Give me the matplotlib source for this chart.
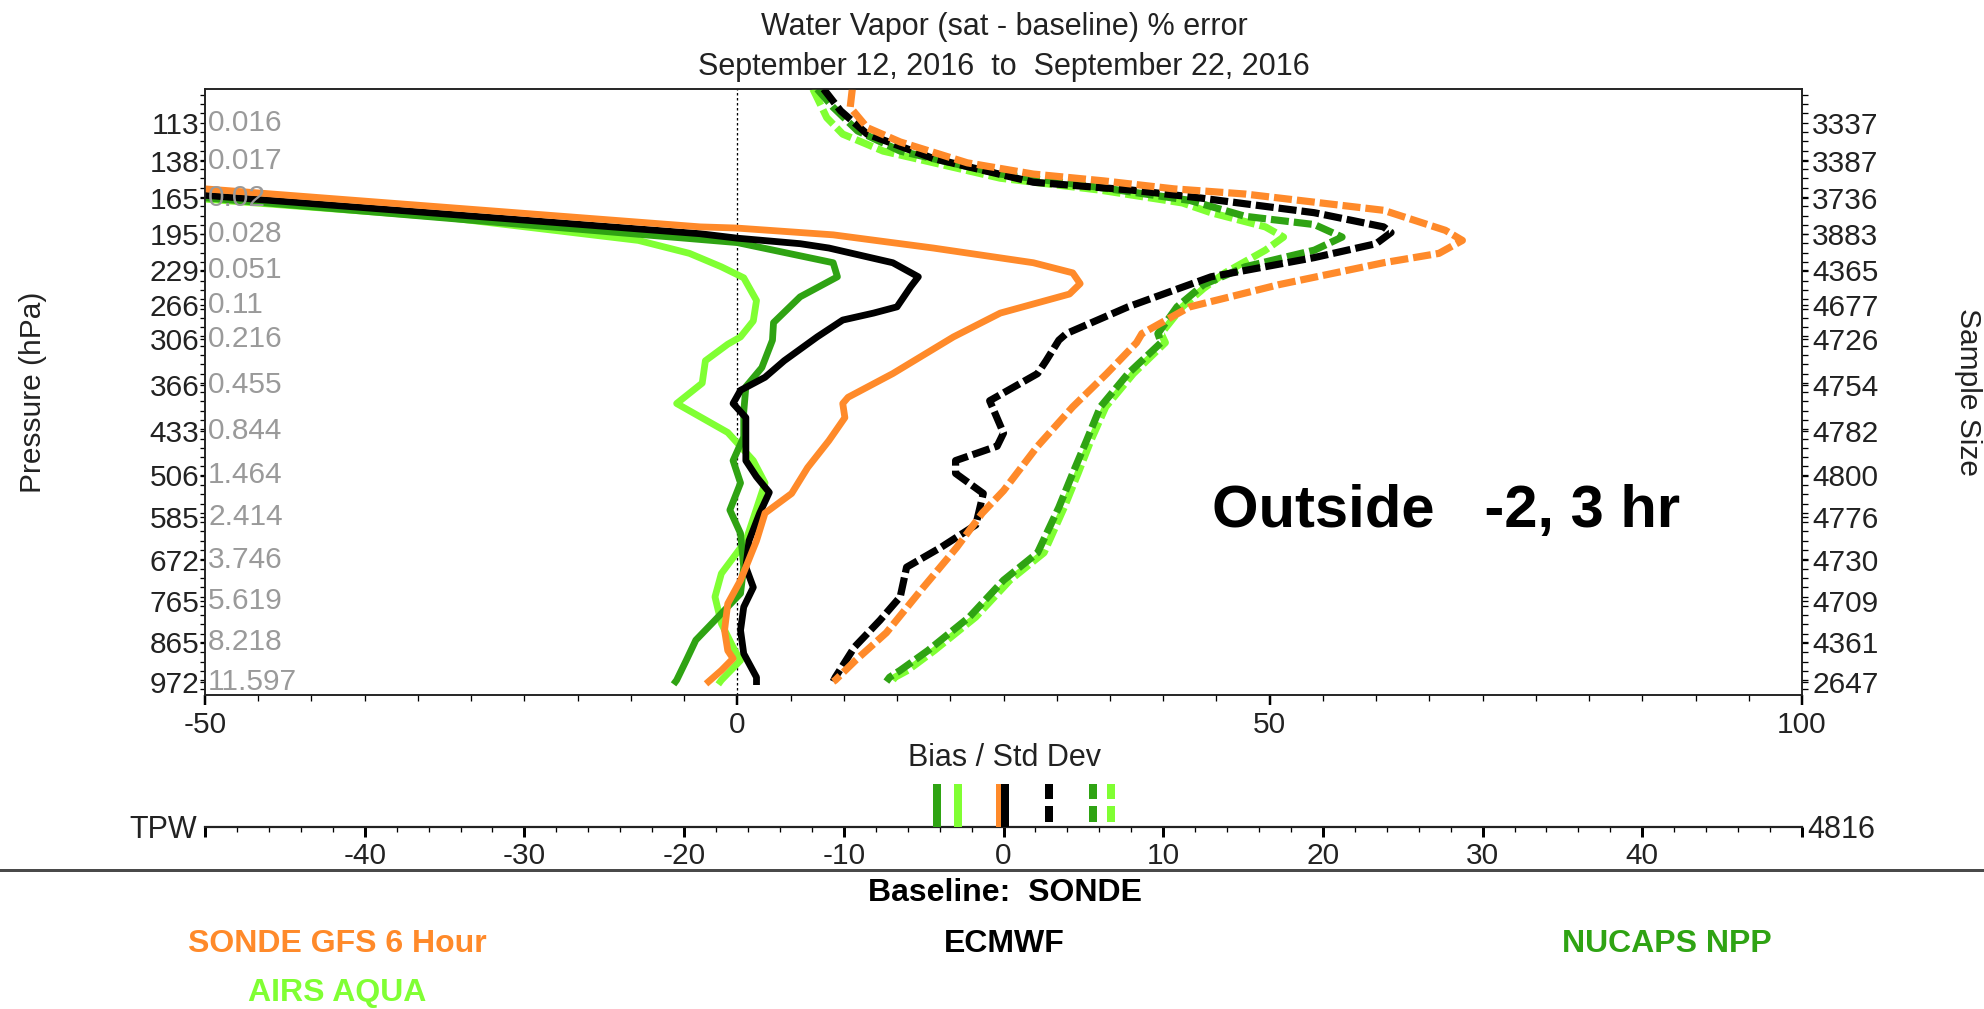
import numpy as np
import matplotlib.pyplot as plt
from matplotlib.lines import Line2D

plt.rcParams['font.family'] = ['Liberation Sans', 'DejaVu Sans']
plt.rcParams['lines.scale_dashes'] = False
plt.rcParams['axes.unicode_minus'] = False

# ---- data -------------------------------------------------------------
levels = [113, 138, 165, 195, 229, 266, 306, 366, 433, 506, 585, 672, 765, 865, 972]
mixing_ratio = ['0.016', '0.017', '0.02', '0.028', '0.051', '0.11', '0.216', '0.455',
                '0.844', '1.464', '2.414', '3.746', '5.619', '8.218', '11.597']
sample_size = [3337, 3387, 3736, 3883, 4365, 4677, 4726, 4754, 4782, 4800, 4776,
               4730, 4709, 4361, 2647]

# bias profiles (solid)
gfs_bias_x = [-50, -3.5, -0.1, 9.0, 18.4, 27.8, 31.5, 32.2, 31.2, 24.7, 20.3, 14.6, 10.4,
              9.9, 10.1, 8.6, 6.6, 5.1, 2.6, 1.8, 0.3, -0.9, -1.2, -0.9, -0.4, -1.5, -2.7]
gfs_bias_p = [158, 189, 190, 196, 208, 222, 232, 243, 254, 275, 303, 350, 383,
              392, 413, 449, 494, 540, 577, 632, 717, 771, 836, 888, 909, 941, 972]
ecmwf_bias_x = [-50, -3.5, 0, 5.9, 8.6, 14.6, 17.0, 16.3, 15.0, 12.8, 9.9, 7.5, 4.4, 2.6,
                0.3, -0.4, 0.8, 0.8, 0.8, 1.8, 3.0, 2.1, 1.1, 0.8, 1.5, 0.6, 0.3, 0.6, 1.8, 1.8]
ecmwf_bias_p = [163, 195, 199, 204, 208, 222, 236, 246, 268, 275, 283, 303, 333, 355,
                373, 392, 413, 443, 482, 510, 538, 577, 632, 688, 733, 779, 836, 896, 960, 972]
nucaps_bias_x = [-50, 0, 9.0, 9.4, 5.9, 3.4, 3.3, 2.3, 0.8, 0.6, 0.6, -0.4, 0.3, -0.7,
                 0.3, 0.6, 0.3, -2.1, -3.9, -4.8, -5.7, -5.8]
nucaps_bias_p = [165, 203, 222, 236, 257, 286, 307, 342, 368, 405, 443, 482, 521, 571,
                 617, 688, 747, 811, 861, 914, 968, 972]
airs_bias_x = [-50, -27.3, -9.3, -4.5, -1.5, 0.6, 1.8, 1.5, 0.3, -0.9, -3.0, -3.3, -5.7,
               -0.9, 1.5, 2.6, 0.8, -1.5, -2.1, -1.5, -0.4, 0.3, -1.5, -1.6]
airs_bias_p = [166, 181, 201, 213, 226, 237, 261, 284, 303, 312, 333, 363, 392,
               436, 482, 521, 632, 702, 755, 819, 879, 914, 968, 972]

# std dev profiles (dashed)
gfs_std_x = [10.8, 10.6, 12.2, 15.3, 21.6, 27.8, 34.4, 41.0, 47.7, 60.7, 66.5, 68.1, 65.9,
             60.7, 50.9, 42.5, 38.0, 37.5, 34.7, 31.5, 28.2, 25.0, 23.0, 20.6, 17.3, 14.0,
             11.1, 9.2, 9.0]
gfs_std_p = [94, 104, 116, 125, 139, 147, 152, 158, 162, 175, 192, 201, 213,
             222, 244, 268, 299, 310, 350, 397, 458, 535, 577, 646, 738, 842,
             914, 968, 972]
ecmwf_std_x = [8.1, 9.7, 12.2, 18.4, 27.8, 37.1, 43.4, 54.2, 60.7, 61.4, 60.0, 54.2, 44.5,
               36.7, 30.9, 30.2, 29.0, 28.2, 23.7, 25.0, 24.4, 20.5, 20.5, 23.1, 22.4,
               19.1, 15.9, 15.3, 13.4, 11.0, 9.2, 9.0]
ecmwf_std_p = [94, 106, 120, 136, 153, 159, 165, 177, 189, 194, 204, 217, 236,
               268, 299, 307, 333, 350, 388, 437, 458, 482, 504, 540, 600,
               646, 688, 755, 811, 879, 960, 972]
nucaps_std_x = [7.5, 9.0, 11.3, 15.3, 24.7, 34.1, 42.5, 47.7, 54.2, 56.8, 54.2, 47.7, 43.8,
                41.3, 39.5, 39.8, 36.7, 34.1, 32.8, 31.5, 30.2, 28.2, 25.0, 21.8, 17.9,
                15.3, 14.3, 14.0]
nucaps_std_p = [94, 104, 118, 131, 147, 157, 167, 180, 187, 198, 210, 226, 244,
                268, 299, 310, 350, 397, 449, 504, 566, 657, 717, 803, 888,
                941, 960, 972]
airs_std_x = [7.1, 8.4, 9.9, 13.7, 24.7, 34.1, 41.8, 44.5, 49.6, 51.3, 49.6, 45.8, 43.8,
              41.8, 39.8, 40.2, 37.2, 34.6, 33.2, 32.0, 30.7, 28.8, 25.6, 22.4, 18.5,
              16.0, 14.8, 14.5]
airs_std_p = [94, 110, 120, 131, 150, 159, 169, 177, 189, 198, 210, 232, 248,
              268, 299, 310, 350, 397, 449, 504, 566, 657, 717, 803, 888,
              941, 960, 972]

# TPW summary (bias solid, std dev dashed)
tpw_bias = {'gfs': -0.2, 'airs': -2.83, 'nucaps': -4.15, 'ecmwf': 0.1}
tpw_std = {'ecmwf': 2.87, 'nucaps': 5.62, 'airs': 6.75}
tpw_count = 4816

c_gfs = '#ff8a2a'
c_ecmwf = '#000000'
c_nucaps = '#2fa313'
c_airs = '#80ff33'

# ---- layout helpers (pixel positions in the 1984x1009 canvas) ---------
W, H = 1984, 1009
def fx(x):
    return x / W
def fy(y):
    return 1 - y / H
PT = 72 / 100  # points per pixel

fig = plt.figure(figsize=(W / 100, H / 100), dpi=100)
fig.patch.set_facecolor('white')

fwd = lambda p: np.sign(p) * np.abs(p) ** (2 / 7)
inv = lambda u: np.sign(u) * np.abs(u) ** 3.5

ax = fig.add_axes([fx(205), fy(695), (1802 - 205) / W, (695 - 89) / H])
ax.set_xlim(-50, 100)
ax.set_yscale('function', functions=(fwd, inv))
ax.set_ylim(1010, 94)

ax.axvline(0, color='k', lw=1.3 * PT, linestyle=(0, (2.5 * PT, 2.5 * PT)), zorder=1)

lw_s = 6.8 * PT
lw_d = 7.2 * PT
dash = (0, (18 * PT, 5 * PT))
for x, p, c in [(airs_std_x, airs_std_p, c_airs), (nucaps_std_x, nucaps_std_p, c_nucaps),
                (ecmwf_std_x, ecmwf_std_p, c_ecmwf), (gfs_std_x, gfs_std_p, c_gfs)]:
    ax.plot(x, p, color=c, lw=lw_d, linestyle=dash, zorder=3)
for x, p, c in [(airs_bias_x, airs_bias_p, c_airs), (nucaps_bias_x, nucaps_bias_p, c_nucaps),
                (ecmwf_bias_x, ecmwf_bias_p, c_ecmwf), (gfs_bias_x, gfs_bias_p, c_gfs)]:
    ax.plot(x, p, color=c, lw=lw_s, zorder=3)

for sp in ax.spines.values():
    sp.set_color('#222222')
    sp.set_linewidth(1.6 * PT)

ax.set_xticks([-50, 0, 50, 100])
ax.set_xticks(np.arange(-50, 101, 5), minor=True)
ax.tick_params(axis='x', which='major', direction='out', length=10 * PT, width=2.5 * PT,
               pad=6 * PT, labelsize=21.5, labelcolor='#222222')
ax.tick_params(axis='x', which='minor', direction='out', length=6 * PT, width=1.3 * PT)

u_minor = fwd(113) + 0.0545 * np.arange(-3, 62)
ax.set_yticks(levels)
ax.set_yticklabels([str(v) for v in levels])
ax.set_yticks(inv(u_minor), minor=True)
ax.yaxis.set_minor_formatter(plt.NullFormatter())
ax.tick_params(axis='y', which='major', direction='out', length=5 * PT, width=1.3 * PT,
               pad=0.5, labelsize=21.5, labelcolor='#222222')
ax.tick_params(axis='y', which='minor', direction='out', length=5 * PT, width=1.3 * PT)

axr = ax.twinx()
axr.set_yscale('function', functions=(fwd, inv))
axr.set_ylim(1010, 94)
axr.set_yticks(levels)
axr.set_yticklabels([str(v) for v in sample_size])
axr.set_yticks(inv(u_minor), minor=True)
axr.yaxis.set_minor_formatter(plt.NullFormatter())
axr.tick_params(axis='y', which='major', direction='out', length=6 * PT, width=1.3 * PT,
                pad=4 * PT, labelsize=21.5, labelcolor='#222222')
axr.tick_params(axis='y', which='minor', direction='out', length=6 * PT, width=1.3 * PT)
for sp in axr.spines.values():
    sp.set_color('#222222')
    sp.set_linewidth(1.6 * PT)

for p, s in zip(levels, mixing_ratio):
    ax.text(0.002, p, s, transform=ax.get_yaxis_transform(), ha='left', va='center',
            fontsize=21.5, color='#9a9a9a', zorder=6)

ax.text(0.777, 0.302, 'Outside   -2, 3 hr', transform=ax.transAxes, ha='center', va='center',
        fontsize=43, fontweight='bold', color='k', zorder=6)

# titles and axis names
fig.text(fx(1004), fy(27), 'Water Vapor (sat - baseline) % error', ha='center', va='center',
         fontsize=22, color='#222222')
fig.text(fx(1004), fy(67), 'September 12, 2016  to  September 22, 2016', ha='center',
         va='center', fontsize=22, color='#222222')
fig.text(fx(33), fy(392), 'Pressure (hPa)', rotation=90, ha='center', va='center',
         fontsize=21.5, color='#222222')
fig.text(fx(1968), fy(392), 'Sample Size', rotation=270, ha='center', va='center',
         fontsize=21.5, color='#222222')
fig.text(fx(1004), fy(758), 'Bias / Std Dev', ha='center', va='center', fontsize=22,
         color='#222222')

# ---- TPW strip ---------------------------------------------------------
ax2 = fig.add_axes([fx(205), fy(827), 1597 / W, 52 / H])
ax2.set_xlim(-50, 50)
ax2.set_ylim(0, 1)
ax2.patch.set_alpha(0)
for k in ['left', 'right', 'top']:
    ax2.spines[k].set_visible(False)
ax2.spines['bottom'].set_color('#222222')
ax2.spines['bottom'].set_linewidth(2.2 * PT)
ax2.set_yticks([])
tpw_ticks = np.arange(-50, 51, 10)
ax2.set_xticks(tpw_ticks)
ax2.set_xticklabels(['' if abs(t) == 50 else str(t) for t in tpw_ticks])
ax2.set_xticks(np.arange(-50, 51, 2), minor=True)
ax2.tick_params(axis='x', which='major', direction='out', length=10 * PT, width=3 * PT,
                pad=5 * PT, labelsize=21.5, labelcolor='#222222')
ax2.tick_params(axis='x', which='minor', direction='out', length=5 * PT, width=1.3 * PT)

bar_top = 0.83
colors = {'gfs': c_gfs, 'airs': c_airs, 'nucaps': c_nucaps, 'ecmwf': c_ecmwf}
for key in ['gfs', 'nucaps', 'airs', 'ecmwf']:
    v = tpw_bias[key]
    ax2.plot([v, v], [0, bar_top], color=colors[key], lw=8 * PT, solid_capstyle='butt',
             clip_on=False, zorder=3)
for key in ['ecmwf', 'nucaps', 'airs']:
    v = tpw_std[key]
    ax2.plot([v, v], [0, bar_top], color=colors[key], lw=8 * PT,
             linestyle=(18 * PT, (16 * PT, 7 * PT)), dash_capstyle='butt', clip_on=False,
             zorder=3)

fig.text(fx(197), fy(830), 'TPW', ha='right', va='center', fontsize=22, color='#222222')
fig.text(fx(1807), fy(830), str(tpw_count), ha='left', va='center', fontsize=22,
         color='#222222')

# ---- legend block ----------------------------------------------------
fig.add_artist(Line2D([0, 1], [fy(870), fy(870)], color='#4a4a4a', lw=3 * PT))
fig.text(fx(1005), fy(893), 'Baseline:  SONDE', ha='center', va='center', fontsize=23,
         fontweight='bold', color='k')
fig.text(fx(337), fy(944), 'SONDE GFS 6 Hour', ha='center', va='center', fontsize=23,
         fontweight='bold', color=c_gfs)
fig.text(fx(1004), fy(944), 'ECMWF', ha='center', va='center', fontsize=23,
         fontweight='bold', color=c_ecmwf)
fig.text(fx(1667), fy(944), 'NUCAPS NPP', ha='center', va='center', fontsize=23,
         fontweight='bold', color=c_nucaps)
fig.text(fx(337), fy(993), 'AIRS AQUA', ha='center', va='center', fontsize=23,
         fontweight='bold', color=c_airs)

fig.savefig('out.png', dpi=100)
